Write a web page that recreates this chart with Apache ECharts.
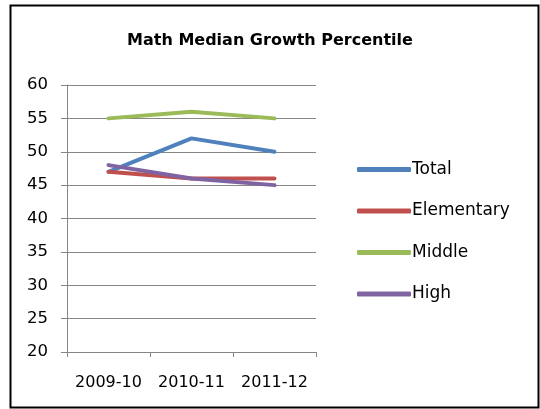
<!DOCTYPE html>
<html>
<head>
<meta charset="utf-8">
<script src="https://cdn.jsdelivr.net/npm/echarts@6/dist/echarts.min.js"></script>
<style>html,body{margin:0;padding:0;background:#fff;}#c{width:540px;height:409px;}</style>
</head>
<body>
<div id="c"></div>
<script>
const categories = ['2009-10', '2010-11', '2011-12'];
const total = [47, 52, 50];
const elementary = [47, 46, 46];
const middle = [55, 56, 55];
const high = [48, 46, 45];
const seriesNames = ['Total', 'Elementary', 'Middle', 'High'];
const colors = ['#4F81BD', '#C0504D', '#9BBB59', '#8064A2'];
const FONT = '"DejaVu Sans"';

const chart = echarts.init(document.getElementById('c'), null, {renderer: 'canvas'});
const mk = (name, data, color) => ({
  name, type: 'line', data, showSymbol: false, symbol: 'none',
  lineStyle: {width: 4, color, cap: 'round', join: 'round'},
  itemStyle: {color}, animation: false
});
chart.setOption({
  animation: false,
  title: {
    text: 'Math Median Growth Percentile', left: 'center', top: 28,
    textStyle: {fontFamily: FONT, fontSize: 16, fontWeight: 'bold', color: '#000'}
  },
  graphic: [{
    type: 'rect', left: 8, top: 3, shape: {width: 528, height: 402},
    style: {fill: null, stroke: '#000', lineWidth: 2}, silent: true
  }],
  legend: {
    orient: 'vertical', left: 352, top: 156, itemGap: 24.5,
    itemWidth: 54, itemHeight: 5, icon: 'roundRect',
    data: seriesNames,
    textStyle: {fontFamily: FONT, fontSize: 17, color: '#000', padding: [0, 0, 0, -4]}
  },
  grid: {left: 67, right: 224, top: 85, bottom: 57, containLabel: false},
  xAxis: {
    type: 'category', data: categories, boundaryGap: true,
    axisLine: {lineStyle: {color: '#868686', width: 1}},
    axisTick: {show: true, length: 5, interval: 0, lineStyle: {color: '#868686'}},
    axisLabel: {fontFamily: FONT, fontSize: 16, color: '#000', margin: 23, interval: 0, hideOverlap: false}
  },
  yAxis: {
    type: 'value', min: 20, max: 60, interval: 5,
    axisLine: {show: true, lineStyle: {color: '#868686', width: 1}},
    axisTick: {show: true, length: 6, lineStyle: {color: '#868686'}},
    splitLine: {lineStyle: {color: '#868686', width: 1}},
    axisLabel: {fontFamily: FONT, fontSize: 16.5, color: '#000', margin: 19}
  },
  series: [
    mk(seriesNames[0], total, colors[0]),
    mk(seriesNames[1], elementary, colors[1]),
    mk(seriesNames[2], middle, colors[2]),
    mk(seriesNames[3], high, colors[3])
  ]
});
</script>
</body>
</html>
